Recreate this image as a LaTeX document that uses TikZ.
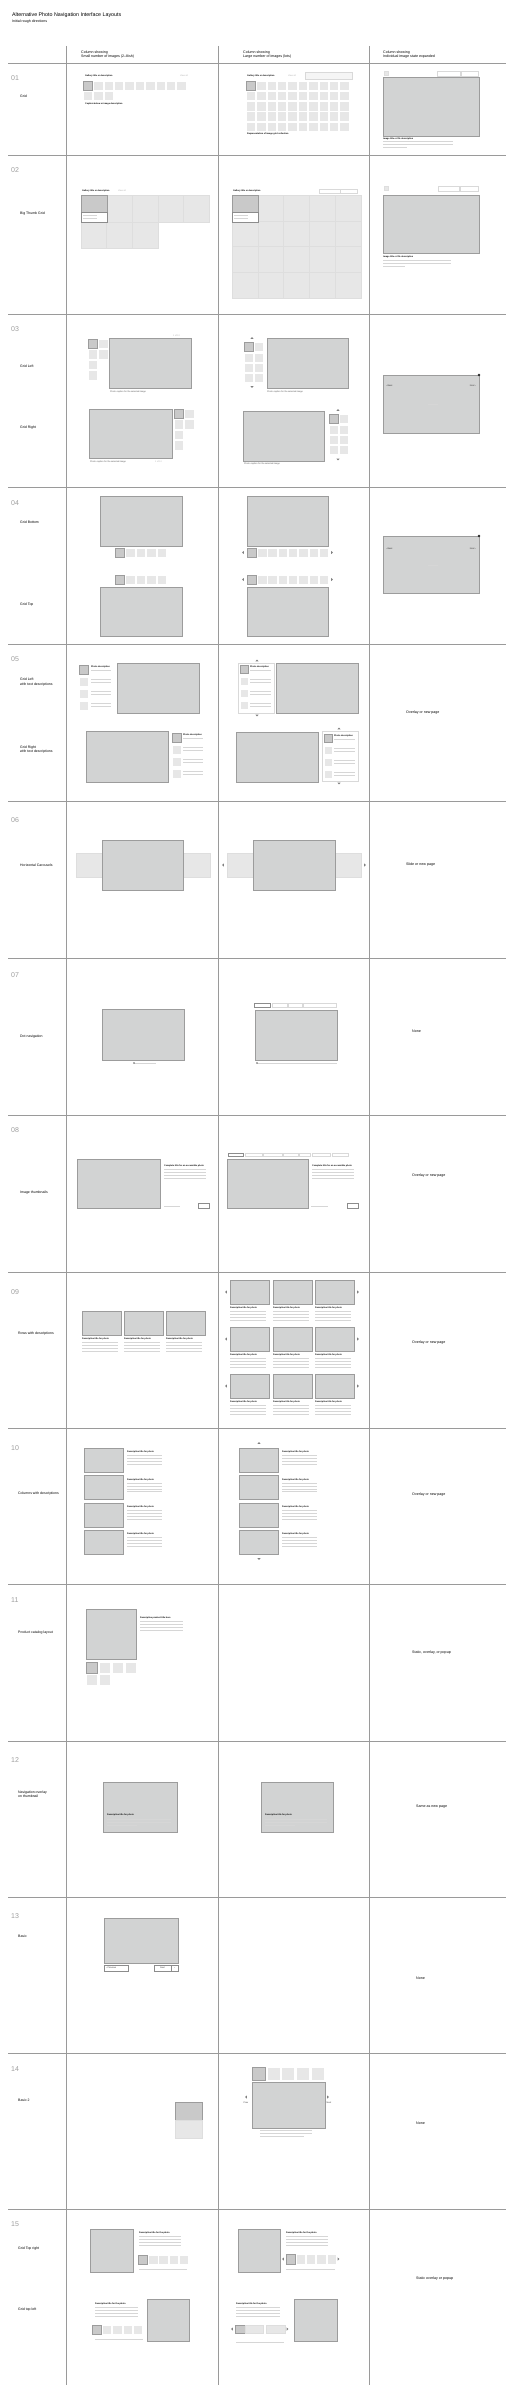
\documentclass[tikz,border=0pt]{standalone}
\usepackage{fontspec}
\setmainfont{Liberation Sans}
\usepackage{tikz}
\usetikzlibrary{positioning}

\definecolor{photogrey}{HTML}{D2D3D3}
\definecolor{edgegrey}{HTML}{9C9C9C}
\definecolor{thumbgrey}{HTML}{E7E7E7}
\definecolor{selgrey}{HTML}{C9C9C9}
\definecolor{rulegrey}{HTML}{9A9A9A}

\tikzset{
  photo_box/.style={fill=photogrey, draw=edgegrey, line width=0.6pt},
  thumb_box/.style={fill=thumbgrey, draw=white, line width=0.5pt},
  big_cell/.style={fill=thumbgrey, draw=black!13, line width=0.5pt},
  sel_thumb/.style={fill=selgrey, draw=edgegrey, line width=0.6pt},
  faint_box/.style={draw=black!15, line width=0.4pt},
  btn_box/.style={draw=black!45, fill=white, line width=0.4pt},
  rule/.style={draw=rulegrey, line width=0.5pt},
  text_line/.style={draw=black!16, line width=0.55pt},
  nav_arrow/.style={fill=black!50},
  mini_title/.style={font=\fontsize{2.2}{2.6}\selectfont\bfseries, inner sep=0pt, anchor=west},
  mini_text/.style={font=\fontsize{2.2}{2.6}\selectfont, text=black!65, inner sep=0pt, anchor=west},
  head_label/.style={font=\fontsize{3.6}{4.8}\selectfont, inner sep=0pt, anchor=west, align=left},
  row_label/.style={font=\fontsize{3.5}{4.4}\selectfont, inner sep=0pt, anchor=west, align=left},
  note_label/.style={font=\fontsize{3.6}{4.4}\selectfont, inner sep=0pt, anchor=west},
  row_num/.style={font=\fontsize{7}{8}\selectfont, text=black!38, inner sep=0pt, anchor=west}
}

\newcommand{\photobox}[4]{\draw[photo_box] (#1,#2) rectangle (#3,#4);}
\newcommand{\thumbrow}[5]{%
  \foreach \k in {1,...,#3}{
    \draw[thumb_box] ({#1+(\k-1)*#4},{#2}) rectangle ++(#5,#5);
  }
}
\newcommand{\thumbcol}[5]{%
  \foreach \k in {1,...,#3}{
    \draw[thumb_box] ({#1},{#2+(\k-1)*#4}) rectangle ++(#5,#5);
  }
}
\newcommand{\selthumb}[3]{\draw[sel_thumb] (#1,#2) rectangle ++(#3,#3);}
\newcommand{\textlines}[4]{%
  \foreach \k in {1,...,#4}{
    \draw[text_line] ({#1},{#2+(\k-1)*2.9}) -- ++(#3,0);
  }
}
\newcommand{\bigpick}[2]{%
  \draw[sel_thumb] (#1,#2) rectangle ++(26,17);
  \draw[btn_box] ({#1},{#2+17}) rectangle ++(26,10);
  \textlines{#1+2}{#2+20}{14}{2}
}
\newcommand{\navL}[2]{\fill[nav_arrow] ({#1+0.9},{#2-1.6}) -- ({#1-0.9},{#2}) -- ({#1+0.9},{#2+1.6}) -- cycle;}
\newcommand{\navR}[2]{\fill[nav_arrow] ({#1-0.9},{#2-1.6}) -- ({#1+0.9},{#2}) -- ({#1-0.9},{#2+1.6}) -- cycle;}
\newcommand{\navU}[2]{\fill[nav_arrow] ({#1-1.6},{#2+0.9}) -- ({#1},{#2-0.9}) -- ({#1+1.6},{#2+0.9}) -- cycle;}
\newcommand{\navD}[2]{\fill[nav_arrow] ({#1-1.6},{#2-0.9}) -- ({#1},{#2+0.9}) -- ({#1+1.6},{#2-0.9}) -- cycle;}
\newcommand{\closedot}[2]{\fill[black!85] (#1,#2) circle (1.4);}

\begin{document}
\begin{tikzpicture}[x=1pt, y=-1pt]
    \fill[white] (0,0) rectangle (516,2398);
    \useasboundingbox (0,0) rectangle (516,2398);

    % Titel
    \node[anchor=west, inner sep=0pt, font=\fontsize{5.3}{6}\selectfont] (title) at (12,15) {Alternative Photo Navigation Interface Layouts};
    \node[anchor=west, inner sep=0pt, font=\fontsize{3.6}{4}\selectfont] (subtitle) at (12,22) {Initial rough directions};

    % Spaltenköpfe
    \node[head_label] (headA) at (81,54.5) {Column showing\\Small number of images (2--8ish)};
    \node[head_label] (headB) at (243,54.5) {Column showing\\Large number of images (lots)};
    \node[head_label] (headC) at (383,54.5) {Column showing\\Individual image state expanded};

    % Raster
    \foreach \y in {63,155,314,487,644,801,958,1115,1272,1428,1584,1741,1897,2053,2209}
        \draw[rule] (8,\y) -- (506,\y);
    \foreach \x in {66,218,369}
        \draw[rule] (\x,46) -- (\x,2385);

    % Zeilennummern
    \foreach \n/\y in {01/78,02/170,03/329,04/503,05/659,06/820,07/975,08/1130,
                       09/1292,10/1448,11/1600,12/1760,13/1916,14/2069,15/2224}
        \node[row_num] (num\n) at (11,\y) {\n};

    % Zeilentitel
    \node[row_label] (lab01)  at (20,96)  {Grid};
    \node[row_label] (lab02)  at (20,214) {Big Thumb Grid};
    \node[row_label] (lab03a) at (20,366) {Grid Left};
    \node[row_label] (lab03b) at (20,428) {Grid Right};
    \node[row_label] (lab04a) at (20,522) {Grid Bottom};
    \node[row_label] (lab04b) at (20,605) {Grid Top};
    \node[row_label] (lab05a) at (20,682) {Grid Left\\with text descriptions};
    \node[row_label] (lab05b) at (20,749.5) {Grid Right\\with text descriptions};
    \node[row_label] (lab06)  at (20,865) {Horizontal Carousels};
    \node[row_label] (lab07)  at (20,1037) {Dot navigation};
    \node[row_label] (lab08)  at (20,1193) {Image thumbnails};
    \node[row_label] (lab09)  at (18,1334) {Rows with descriptions};
    \node[row_label] (lab10)  at (18,1494) {Columns with descriptions};
    \node[row_label] (lab11)  at (18,1633) {Product catalog layout};
    \node[row_label] (lab12)  at (18,1794) {Navigation overlay\\on thumbnail};
    \node[row_label] (lab13)  at (18,1936) {Basic};
    \node[row_label] (lab14)  at (18,2100) {Basic 2};
    \node[row_label] (lab15a) at (18,2249) {Grid Top right};
    \node[row_label] (lab15b) at (18,2310) {Grid top left};

    % Hinweise rechte Spalte
    \node[note_label] (note05) at (406,713)  {Overlay or new page};
    \node[note_label] (note06) at (406,865)  {Slide or new page};
    \node[note_label] (note07) at (412,1031) {None};
    \node[note_label] (note08) at (412,1176) {Overlay or new page};
    \node[note_label] (note09) at (412,1343) {Overlay or new page};
    \node[note_label] (note10) at (412,1495) {Overlay or new page};
    \node[note_label] (note11) at (412,1653) {Static, overlay, or popup};
    \node[note_label] (note12) at (416,1807) {Same as new page};
    \node[note_label] (note13) at (416,1978) {None};
    \node[note_label] (note14) at (416,2123) {None};
    \node[note_label] (note15) at (416,2279) {Static overlay or popup};

    % 01 Grid
    \node[mini_title] (g1a) at (85,76) {Gallery title or description};
    \node[mini_text, text=black!30] (g1b) at (180,76) {View all};
    \thumbrow{83}{81}{10}{10.4}{9.5}
    \thumbrow{83}{91.2}{3}{10.4}{9.5}
    \selthumb{83}{81}{9.5}
    \node[mini_title] (g1c) at (85,104) {Caption below or image description};

    \node[mini_title] (g2a) at (247,76) {Gallery title or description};
    \node[mini_text, text=black!30] (g2b) at (288,76) {View all};
    \draw[faint_box, fill=black!4] (305,72) rectangle (352,79);
    \foreach \r in {0,...,4}{
        \thumbrow{246}{81+\r*10.2}{10}{10.4}{9.5}
    }
    \selthumb{246}{81}{9.5}
    \node[mini_title] (g2c) at (247,134) {Representation of image grid collection};

    \draw[big_cell] (384,71) rectangle ++(4,4);
    \draw[faint_box] (437,71) rectangle (460,76);
    \draw[faint_box] (461,71) rectangle (478,76);
    \photobox{383}{77}{479}{136}
    \node[mini_title] (g3a) at (383,138.5) {Image title or file description};
    \textlines{383}{141.5}{70}{2}
    \textlines{383}{147.3}{24}{1}

    % 02 Big Thumb Grid
    \node[mini_title] (b1a) at (82,191) {Gallery title or description};
    \node[mini_text, text=black!30] (b1b) at (118,191) {View all};
    \foreach \i in {0,...,4}
        \draw[big_cell] ({81+\i*25.6},195) rectangle ++(25.6,27);
    \foreach \i in {0,...,2}
        \draw[big_cell] ({81+\i*25.6},222) rectangle ++(25.6,26);
    \bigpick{81}{195}

    \node[mini_title] (b2a) at (233,191) {Gallery title or description};
    \draw[faint_box] (319,189) rectangle (340,193.5);
    \draw[faint_box] (340,189) rectangle (357,193.5);
    \foreach \i in {0,...,4}
        \foreach \j in {0,...,3}
            \draw[big_cell] ({232+\i*25.8},{195+\j*25.75}) rectangle ++(25.8,25.75);
    \bigpick{232}{195}

    \draw[big_cell] (384,186) rectangle ++(4,4);
    \draw[faint_box] (438,186) rectangle (459,191);
    \draw[faint_box] (460,186) rectangle (478,191);
    \photobox{383}{195}{479}{253}
    \node[mini_title] (b3a) at (383,257) {Image title or file description};
    \textlines{383}{260.5}{68}{2}
    \textlines{383}{266.3}{22}{1}

    % 03 Grid Left / Grid Right
    \thumbcol{88}{339}{4}{10.5}{9.5}
    \thumbcol{98.5}{339}{2}{10.5}{9.5}
    \selthumb{88}{339}{9.5}
    \photobox{109}{338}{191}{388}
    \node[mini_text] (l1a) at (110,391.5) {Photo caption for the selected image};
    \node[mini_text, text=black!30] (l1b) at (173,335.5) {1 of 12};

    \navU{252}{338}
    \thumbcol{244}{342.5}{4}{10.3}{9}
    \thumbcol{254}{342.5}{4}{10.3}{9}
    \selthumb{244}{342.5}{9}
    \navD{252}{387}
    \photobox{267}{338}{348}{388}
    \node[mini_text] (l2a) at (267,391.5) {Photo caption for the selected image};

    \photobox{383}{375}{479}{433}
    \closedot{479}{375}
    \node[mini_text, text=black!80] (l3a) at (386,386) {‹ Back};
    \node[mini_text, text=black!80, anchor=east] (l3b) at (476,386) {Next ›};
    \draw[text_line] (428,404) -- (438,404);

    \photobox{89}{409}{172}{458}
    \thumbcol{174}{409}{4}{10.5}{9.5}
    \thumbcol{184.5}{409}{2}{10.5}{9.5}
    \selthumb{174}{409}{9.5}
    \node[mini_text] (r1a) at (90,461.5) {Photo caption for the selected image};
    \node[mini_text, text=black!30] (r1b) at (155,461.5) {1 of 12};

    \photobox{243}{411}{324}{461}
    \navU{338}{410}
    \thumbcol{329}{414.5}{4}{10.3}{9}
    \thumbcol{339.5}{414.5}{4}{10.3}{9}
    \selthumb{329}{414.5}{9}
    \navD{338}{459.5}
    \node[mini_text] (r2a) at (244,463.5) {Photo caption for the selected image};

    % 04 Grid Bottom / Grid Top
    \photobox{100}{496}{182}{546}
    \thumbrow{115}{548}{5}{10.5}{9.5}
    \selthumb{115}{548}{9.5}
    \thumbrow{115}{575}{5}{10.5}{9.5}
    \selthumb{115}{575}{9.5}
    \photobox{100}{587}{182}{636}

    \photobox{247}{496}{328}{546}
    \navL{243}{552.5}
    \thumbrow{247}{548}{8}{10.3}{9.5}
    \selthumb{247}{548}{9.5}
    \navR{332}{552.5}
    \navL{243}{579.5}
    \thumbrow{247}{575}{8}{10.3}{9.5}
    \selthumb{247}{575}{9.5}
    \navR{332}{579.5}
    \photobox{247}{587}{328}{636}

    \photobox{383}{536}{479}{593}
    \closedot{479}{536}
    \node[mini_text, text=black!80] (t3a) at (386,549) {‹ Back};
    \node[mini_text, text=black!80, anchor=east] (t3b) at (476,549) {Next ›};
    \draw[text_line] (428,565) -- (438,565);

    % 05 mit Beschreibungen
    \thumbcol{79}{665}{4}{12}{9}
    \selthumb{79}{665}{9}
    \node[mini_title] (d1a) at (91,667) {Photo description};
    \textlines{91}{670.5}{20}{1}
    \foreach \j in {1,2,3}{
        \textlines{91}{667+\j*12}{20}{2}
    }
    \photobox{117}{663}{199}{713}

    \photobox{86}{731}{168}{782}
    \thumbcol{172}{733}{4}{12}{9}
    \selthumb{172}{733}{9}
    \node[mini_title] (d2a) at (183,735) {Photo description};
    \textlines{183}{738.5}{20}{1}
    \foreach \j in {1,2,3}{
        \textlines{183}{735+\j*12}{20}{2}
    }

    \draw[faint_box] (238,663) rectangle (274,713);
    \navU{257}{660.5}
    \thumbcol{240}{665}{4}{12}{8.5}
    \selthumb{240}{665}{8.5}
    \node[mini_title] (d3a) at (250,667) {Photo description};
    \textlines{250}{670.5}{21}{1}
    \foreach \j in {1,2,3}{
        \textlines{250}{667+\j*12}{21}{2}
    }
    \navD{257}{715.5}
    \photobox{276}{663}{358}{713}

    \photobox{236}{732}{318}{782}
    \draw[faint_box] (322,731) rectangle (358,781);
    \navU{339}{728.5}
    \thumbcol{324}{734}{4}{12}{8.5}
    \selthumb{324}{734}{8.5}
    \node[mini_title] (d4a) at (334,736) {Photo description};
    \textlines{334}{739.5}{21}{1}
    \foreach \j in {1,2,3}{
        \textlines{334}{736+\j*12}{21}{2}
    }
    \navD{339}{783.5}

    % 06 Karussell
    \draw[big_cell] (76,853) rectangle (102,877);
    \draw[big_cell] (183,853) rectangle (210,877);
    \photobox{102}{840}{183}{890}

    \navL{223}{865}
    \draw[big_cell] (227,853) rectangle (253,877);
    \draw[big_cell] (335,853) rectangle (361,877);
    \photobox{253}{840}{335}{890}
    \navR{365}{865}

    % 07 Punkt-Navigation
    \photobox{102}{1009}{184}{1060}
    \draw[text_line] (134,1063) -- (156,1063);
    \fill[black!60] (134,1063) circle (0.8);

    \draw[btn_box] (254,1003) rectangle (270,1007.5);
    \draw[faint_box] (272,1003) rectangle (287,1007.5);
    \draw[faint_box] (288,1003) rectangle (302,1007.5);
    \draw[faint_box] (303,1003) rectangle (336,1007.5);
    \photobox{255}{1010}{337}{1060}
    \draw[text_line] (257,1063) -- (337,1063);
    \fill[black!60] (257,1063) circle (0.8);

    % 08 Bild mit Text
    \photobox{77}{1159}{160}{1208}
    \node[mini_title] (i1a) at (164,1166) {Complete title for an accessible photo};
    \textlines{164}{1169.5}{42}{4}
    \draw[text_line] (164,1206) -- (180,1206);
    \draw[btn_box] (198,1203) rectangle (209,1208);

    \draw[btn_box] (228,1153) rectangle (243,1156.5);
    \foreach \a/\b in {245/262,263/282,283/298,299/310,312/330,332/348}
        \draw[faint_box] (\a,1153) rectangle (\b,1156.5);
    \photobox{227}{1159}{308}{1208}
    \node[mini_title] (i2a) at (312,1166) {Complete title for an accessible photo};
    \textlines{312}{1169.5}{42}{4}
    \draw[text_line] (311,1206) -- (328,1206);
    \draw[btn_box] (347,1203) rectangle (358,1208);

    % 09 Reihen
    \foreach \x in {82,124,166}{
        \photobox{\x}{1311}{\x+39}{1335}
        \node[mini_title] at (\x,1339) {Descriptive title for photo};
        \textlines{\x}{1342.5}{36}{4}
    }
    \foreach \y in {1280,1327,1374}{
        \navL{226}{\y+12}
        \navR{358}{\y+12}
        \foreach \x in {230,273,315}{
            \photobox{\x}{\y}{\x+39}{\y+24}
            \node[mini_title] at (\x,\y+28) {Descriptive title for photo};
            \textlines{\x}{\y+31.5}{36}{4}
        }
    }

    % 10 Spalten
    \foreach \y in {1448,1475.5,1503,1530}{
        \photobox{84}{\y}{123}{\y+24}
        \node[mini_title] at (127,\y+4) {Descriptive title for photo};
        \textlines{127}{\y+7.5}{35}{4}
        \photobox{239}{\y}{278}{\y+24}
        \node[mini_title] at (282,\y+4) {Descriptive title for photo};
        \textlines{282}{\y+7.5}{35}{4}
    }
    \navU{259}{1443}
    \navD{259}{1559}

    % 11 Produktkatalog
    \photobox{86}{1609}{136}{1659}
    \node[mini_title] (p1a) at (140,1618) {Descriptive product title here};
    \textlines{140}{1621.5}{43}{4}
    \thumbrow{86}{1662}{4}{13}{11}
    \thumbrow{86}{1674.5}{2}{13}{11}
    \selthumb{86}{1662}{11}

    % 12 Overlay
    \photobox{103}{1782}{177}{1832}
    \node[mini_title] (o1a) at (107,1815) {Descriptive title for photo};
    \textlines{107}{1819}{64}{2}
    \textlines{107}{1824.8}{30}{1}
    \photobox{261}{1782}{333}{1832}
    \node[mini_title] (o2a) at (265,1815) {Descriptive title for photo};
    \textlines{265}{1819}{62}{2}
    \textlines{265}{1824.8}{30}{1}

    % 13 Basic
    \photobox{104}{1918}{178}{1963}
    \draw[btn_box] (104,1965) rectangle (128,1971);
    \node[mini_text, text=black!80] (n1a) at (106,1968) {‹ Previous};
    \draw[btn_box] (154,1965) rectangle (171,1971);
    \node[mini_text, text=black!80, anchor=center] (n1b) at (162.5,1968) {Next};
    \draw[btn_box] (171,1965) rectangle (178,1971);
    \node[mini_text, text=black!80, anchor=center] (n1c) at (174.5,1968) {›};

    % 14 Basic 2
    \draw[sel_thumb] (175,2102) rectangle (202,2120);
    \draw[big_cell] (175,2120) rectangle (202,2138);

    \thumbrow{252}{2067}{5}{14.8}{13}
    \selthumb{252}{2067}{13}
    \photobox{252}{2082}{325}{2128}
    \navL{246}{2097}
    \node[mini_text, text=black!80, anchor=center] (m1a) at (246,2103) {Prev};
    \navR{328}{2097}
    \node[mini_text, text=black!80, anchor=center] (m1b) at (329,2103) {Next};
    \textlines{260}{2130.5}{52}{2}
    \textlines{260}{2136.3}{44}{1}

    % 15 Grid oben rechts / oben links
    \photobox{90}{2229}{133}{2272}
    \node[mini_title] (q1a) at (139,2233) {Descriptive title for the photo};
    \textlines{139}{2236.5}{42}{4}
    \thumbrow{138}{2255}{5}{10.3}{9.5}
    \selthumb{138}{2255}{9.5}
    \textlines{139}{2269}{48}{1}

    \node[mini_title] (q2a) at (95,2304) {Descriptive title for the photo};
    \textlines{95}{2307.5}{43}{4}
    \thumbrow{92}{2325}{5}{10.3}{9.3}
    \selthumb{92}{2325}{9.3}
    \textlines{95}{2339}{48}{1}
    \photobox{147}{2299}{189}{2341}

    \photobox{238}{2229}{280}{2272}
    \node[mini_title] (q3a) at (286,2233) {Descriptive title for the photo};
    \textlines{286}{2236.5}{42}{4}
    \navL{283}{2259}
    \thumbrow{286}{2254.5}{5}{10.2}{9.3}
    \selthumb{286}{2254.5}{9.3}
    \navR{338.5}{2259}
    \textlines{286}{2269}{49}{1}

    \node[mini_title] (q4a) at (236,2304) {Descriptive title for the photo};
    \textlines{236}{2307.5}{44}{4}
    \navL{232}{2329}
    \draw[sel_thumb] (235,2325) rectangle (245,2333);
    \draw[big_cell] (245,2325) rectangle (263,2333);
    \draw[big_cell] (266,2325) rectangle (285,2333);
    \navR{287.5}{2329}
    \textlines{236}{2342}{48}{1}
    \photobox{294}{2299}{337}{2341}

\end{tikzpicture}
\end{document}
